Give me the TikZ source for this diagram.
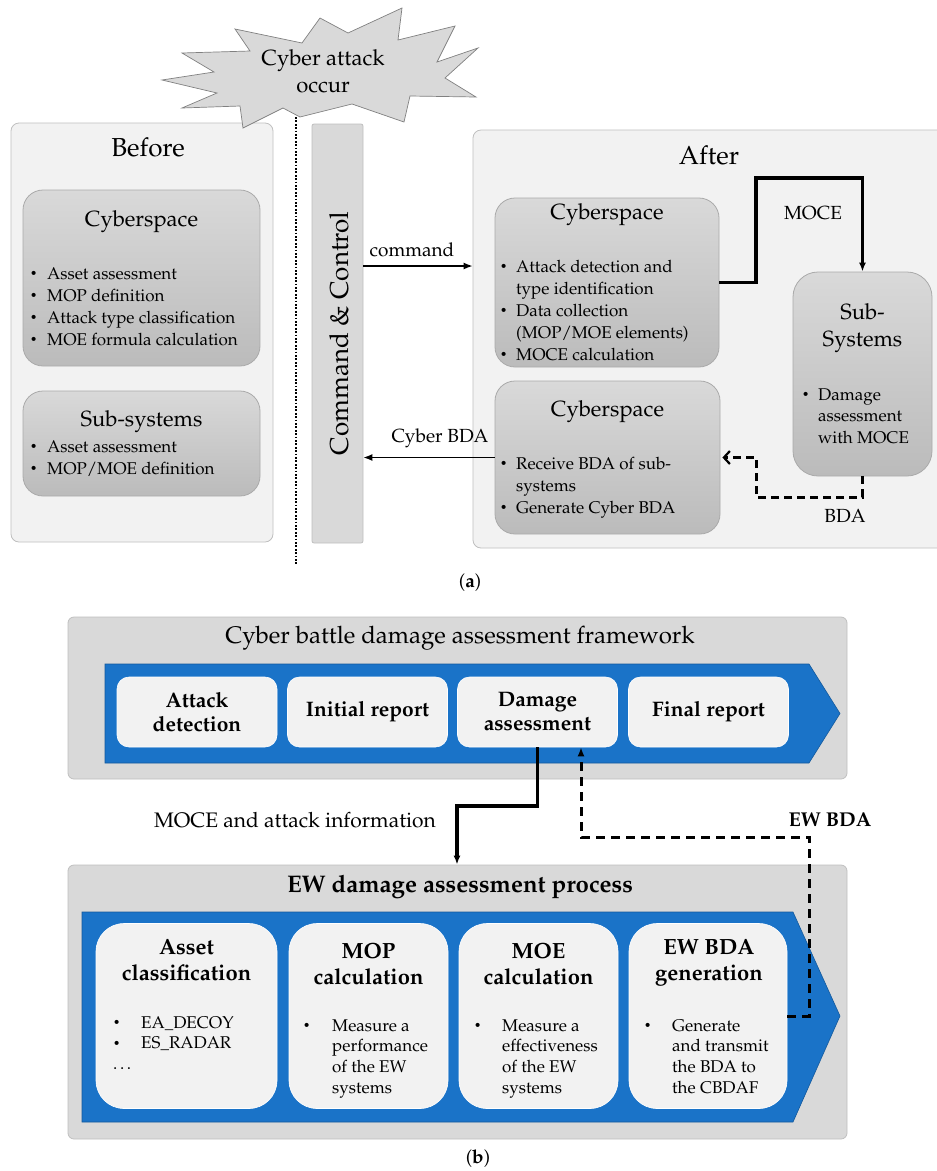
\documentclass[tikz,border=0pt]{standalone}
\usepackage[T1]{fontenc}
\usepackage{mathpazo}
\usepackage{graphicx}
\usepackage{tikz}
\usetikzlibrary{arrows,arrows.meta,positioning,calc}

\definecolor{panelgray}{HTML}{F2F2F2}
\definecolor{framegray}{HTML}{D9D9D9}
\definecolor{edgegray}{HTML}{BFBFBF}
\definecolor{boxtop}{HTML}{D9D9D9}
\definecolor{boxbot}{HTML}{BBBBBB}
\definecolor{boxedge}{HTML}{AAAAAA}
\definecolor{flowblue}{HTML}{1A73C8}
\definecolor{flowedge}{HTML}{13599C}

% bullet column and indent of a wrapped line
\newcommand{\bul}[1]{\makebox[#1][l]{\raisebox{0.15ex}{\scalebox{0.7}{\textbullet}}}}
\newcommand{\ind}[1]{\hspace*{#1}}
\newcommand{\blist}[1]{\begin{tabular}[t]{@{}l@{}}#1\end{tabular}}

\begin{document}
\begin{tikzpicture}[x=1pt,y=-1pt,>={Latex[length=9pt,width=7pt]},
    panel/.style={draw=edgegray,fill=panelgray,rounded corners=8pt,line width=0.8pt},
    gray box/.style={draw=boxedge,top color=boxtop,bottom color=boxbot,rounded corners=20pt,line width=0.8pt},
    frame box/.style={draw=edgegray,fill=framegray,rounded corners=6pt,line width=0.8pt,minimum width=779pt},
    stage box/.style={draw=white,fill=panelgray,rounded corners=12pt,line width=0.6pt,minimum width=160pt,minimum height=70pt},
    ew box/.style={draw=white,fill=panelgray,rounded corners=28pt,line width=0.6pt,minimum height=185pt},
    head text/.style={font=\fontsize{26}{30}\selectfont,inner sep=0pt},
    title text/.style={font=\fontsize{22}{27}\selectfont,align=center,inner sep=0pt},
    list text/.style={font=\fontsize{17}{22}\selectfont,inner sep=0pt,anchor=base west},
    label text/.style={font=\fontsize{19}{23}\selectfont,inner sep=0pt},
    stage text/.style={font=\bfseries\fontsize{21}{24}\selectfont,align=center,inner sep=0pt},
    ew title/.style={font=\bfseries\fontsize{22}{26}\selectfont,align=center,inner sep=0pt},
    ew list/.style={font=\fontsize{17}{20.7}\selectfont,inner sep=0pt,anchor=base west},
    flow/.style={line width=3.2pt},
    back flow/.style={line width=3pt,dash pattern=on 8pt off 5pt}]
\useasboundingbox (0,0) rectangle (937,1171);

%% (a) before / after
\node[panel,minimum width=262pt,minimum height=419pt] (before) at (142,332.5) {};
\node[head text] (before title) at (148,147) {Before};

\node[gray box,minimum width=237pt,minimum height=176pt] (cyb1) at (141.5,278) {};
\node[title text] (cyb1 title) at (141.5,222) {Cyberspace};
\node[list text] (cyb1 list) at (30,279) {\blist{\bul{17pt}Asset assessment\\
  \bul{17pt}MOP definition\\ \bul{17pt}Attack type classification\\
  \bul{17pt}MOE formula calculation}};

\node[gray box,minimum width=237pt,minimum height=105pt] (subs1) at (141.5,443.5) {};
\node[title text] (subs1 title) at (141.5,422) {Sub-systems};
\node[list text] (subs1 list) at (30,452) {\blist{\bul{17pt}Asset assessment\\
  \bul{17pt}MOP/MOE definition}};

% line of the attack
\coordinate (cut top) at (296,117);
\coordinate (cut bottom) at (296,565);
\draw[line width=2.8pt,dash pattern=on 1.8pt off 1.6pt] (cut top) -- (cut bottom);

\filldraw[fill=framegray,draw=black!50,line width=0.7pt]
  (162,80) -- (214,72) -- (182,53) -- (250,51) -- (235,29) -- (302,43) -- (320,18)
  -- (348,33) -- (402,8) -- (398,40) -- (455,26) -- (437,62) -- (478,48)
  -- (445,78) -- (476,97) -- (410,96) -- (404,122) -- (352,104) -- (300,117)
  -- (283,108) -- (243,128) -- (240,106) -- (182,108) -- (217,93) -- cycle;
\node[title text] (burst) at (323,71.5) {Cyber attack\\occur};

\node[draw=edgegray,fill=framegray,rounded corners=2pt,line width=0.8pt,
      minimum width=51pt,minimum height=419pt] (cc) at (337.5,333.5) {};
\node[head text,rotate=90] (cc text) at (339,333.5) {Command \& Control};

\node[panel,minimum width=472pt,minimum height=418pt] (after) at (709,339) {};
\node[head text] (after title) at (709,155) {After};

\node[gray box,minimum width=224pt,minimum height=169pt] (cyb2) at (607,282.5) {};
\node[title text] (cyb2 title) at (607,215) {Cyberspace};
\node[list text] (cyb2 list) at (500,272) {\blist{\bul{16pt}Attack detection and\\
  \ind{16pt}type identification\\ \bul{16pt}Data collection\\
  \ind{16pt}(MOP/MOE elements)\\ \bul{16pt}MOCE calculation}};

\node[gray box,rounded corners=25pt,minimum width=139pt,minimum height=204pt] (subs2) at (862.5,374) {};
\node[title text] (subs2 title) at (862.5,328.5) {Sub-\\Systems};
\node[list text,font=\fontsize{17}{21.5}\selectfont] (subs2 list) at (802,400) {\blist{\bul{16pt}Damage\\
  \ind{16pt}assessment\\ \ind{16pt}with MOCE}};

\node[gray box,minimum width=225pt,minimum height=153pt] (cyb3) at (607.5,457.5) {};
\node[title text] (cyb3 title) at (607.5,412) {Cyberspace};
\node[list text] (cyb3 list) at (500,469) {\blist{\bul{16pt}Receive BDA of sub-\\
  \ind{16pt}systems\\ \bul{16pt}Generate Cyber BDA}};

% connectors of (a)
\draw[->,line width=1.4pt] ([yshift=67.5pt]cc.east) -- ([yshift=73pt]after.west);
\node[label text] (cmd label) at (412,250) {command};
\draw[->,line width=1.4pt] (cyb3.west) -- (cyb3.west -| cc.east);
\node[label text] (cbda label) at (440,438) {Cyber BDA};

\coordinate (moce turn) at (756,178);
\draw[flow,->] (cyb2.east) -| (moce turn) -| (subs2.north);
\node[label text] (moce label) at (813,213) {MOCE};

\coordinate (bda turn) at (756,497);
\draw[back flow,-{Straight Barb[length=6pt,width=13pt,line width=2.2pt]}]
  (subs2.south) |- (bda turn) |- ([xshift=2pt]cyb3.east);
\node[label text] (bda label) at (845,516) {BDA};

\node[label text] (cap a) at (470,583) {(\textbf{a})};

%% (b) framework and EW process
\node[frame box,minimum height=162pt] (fw) at (457.5,698) {};
\node[font=\fontsize{24}{28}\selectfont,inner sep=0pt] (fw title) at (460,638)
  {Cyber battle damage assessment framework};
\filldraw[fill=flowblue,draw=flowedge,line width=0.6pt]
  (105,664) -- (809,664) -- (840,713.5) -- (809,763) -- (105,763) -- cycle;

\node[stage box] (b1) at (197,712) {};
\node[stage box] (b2) at (367.5,712) {};
\node[stage box] (b3) at (537.5,712) {};
\node[stage box] (b4) at (708.5,712) {};
\node[stage text] (b1 text) at (197,712) {Attack\\detection};
\node[stage text] (b2 text) at (367.5,712) {Initial report};
\node[stage text] (b3 text) at (537.5,712) {Damage\\assessment};
\node[stage text] (b4 text) at (708.5,712) {Final report};

\node[frame box,minimum height=274pt] (ew) at (457.5,1002) {};
\node[font=\bfseries\fontsize{24}{28}\selectfont,inner sep=0pt] (ew title) at (460,887)
  {EW damage assessment process};
\filldraw[fill=flowblue,draw=flowedge,line width=0.6pt]
  (82,912) -- (793,912) -- (840,1016) -- (793,1122) -- (82,1122) -- cycle;

\node[ew box,minimum width=181pt] (e1) at (186.5,1016) {};
\node[ew box,minimum width=159pt] (e2) at (368.5,1016) {};
\node[ew box,minimum width=159pt] (e3) at (538.5,1016) {};
\node[ew box,minimum width=158pt] (e4) at (708,1016) {};
\node[ew title] (e1 title) at (186.5,960) {Asset\\classification};
\node[ew title] (e2 title) at (368.5,964) {MOP\\calculation};
\node[ew title] (e3 title) at (538.5,964) {MOE\\calculation};
\node[ew title] (e4 title) at (709,963) {EW BDA\\generation};
\node[ew list] (e1 list) at (113,1028) {\blist{\bul{28pt}EA\_DECOY\\
  \bul{28pt}ES\_RADAR\\ \dots}};
\node[ew list] (e2 list) at (303,1031) {\blist{\bul{29pt}Measure a\\
  \ind{29pt}performance\\ \ind{29pt}of the EW\\ \ind{29pt}systems}};
\node[ew list] (e3 list) at (474,1031) {\blist{\bul{28pt}Measure a\\
  \ind{28pt}effectiveness\\ \ind{28pt}of the EW\\ \ind{28pt}systems}};
\node[ew list] (e4 list) at (644,1031) {\blist{\bul{28pt}Generate\\
  \ind{28pt}and transmit\\ \ind{28pt}the BDA to\\ \ind{28pt}the CBDAF}};

% connectors of (b)
\coordinate (info turn) at (457,806);
\draw[flow,->] (b3.south) |- (info turn) -- (info turn |- ew.north);
\node[label text,font=\fontsize{21}{25}\selectfont] (info label) at (295,820)
  {MOCE and attack information};

\coordinate (ew turn) at (809,837);
\draw[back flow,dash pattern=on 9pt off 6pt,->] (e4.east) -| (ew turn) -| ([xshift=43.5pt]b3.south);
\node[label text,font=\bfseries\fontsize{20}{24}\selectfont] (ewbda label) at (830,820) {EW BDA};

\node[label text] (cap b) at (478,1159) {(\textbf{b})};
\end{tikzpicture}
\end{document}
